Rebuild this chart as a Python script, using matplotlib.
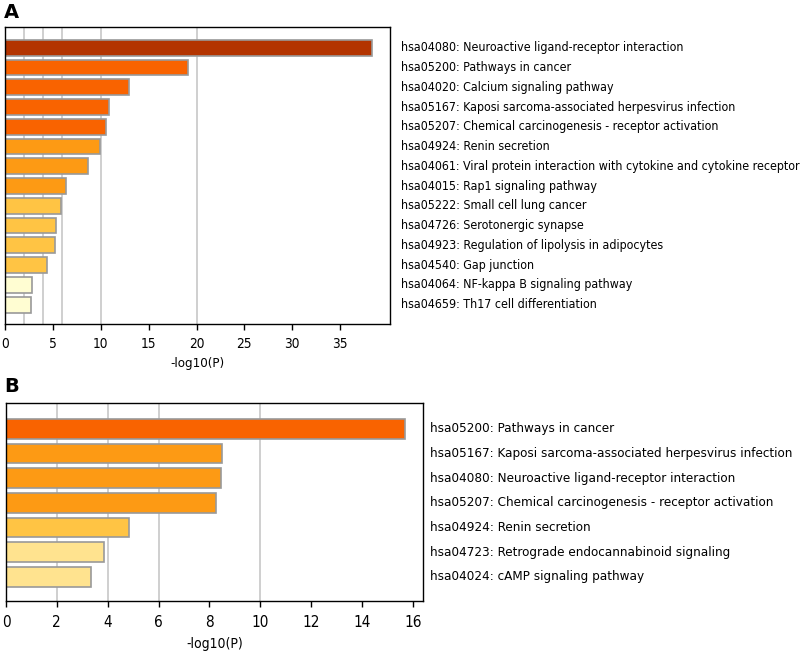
import matplotlib.pyplot as plt

# Panel A: KEGG terms and -log10(P)
terms_a = [
    "hsa04080: Neuroactive ligand-receptor interaction",
    "hsa05200: Pathways in cancer",
    "hsa04020: Calcium signaling pathway",
    "hsa05167: Kaposi sarcoma-associated herpesvirus infection",
    "hsa05207: Chemical carcinogenesis - receptor activation",
    "hsa04924: Renin secretion",
    "hsa04061: Viral protein interaction with cytokine and cytokine receptor",
    "hsa04015: Rap1 signaling pathway",
    "hsa05222: Small cell lung cancer",
    "hsa04726: Serotonergic synapse",
    "hsa04923: Regulation of lipolysis in adipocytes",
    "hsa04540: Gap junction",
    "hsa04064: NF-kappa B signaling pathway",
    "hsa04659: Th17 cell differentiation",
]
values_a = [38.3, 19.1, 12.9, 10.9, 10.55, 9.9, 8.7, 6.4, 5.8, 5.3, 5.2, 4.4, 2.8, 2.75]
colors_a = ["#B33400"] + ["#F96300"] * 4 + ["#FD9A14"] * 3 + ["#FFC444"] * 4 + ["#FFFDD2"] * 2
ticks_a = [0, 5, 10, 15, 20, 25, 30, 35]
grid_a = [2, 4, 6, 10, 20]

# Panel B
terms_b = [
    "hsa05200: Pathways in cancer",
    "hsa05167: Kaposi sarcoma-associated herpesvirus infection",
    "hsa04080: Neuroactive ligand-receptor interaction",
    "hsa05207: Chemical carcinogenesis - receptor activation",
    "hsa04924: Renin secretion",
    "hsa04723: Retrograde endocannabinoid signaling",
    "hsa04024: cAMP signaling pathway",
]
values_b = [15.7, 8.49, 8.47, 8.27, 4.83, 3.85, 3.33]
colors_b = ["#F96300"] + ["#FD9A14"] * 3 + ["#FFC444"] + ["#FFE38F"] * 2
ticks_b = [0, 2, 4, 6, 8, 10, 12, 14, 16]
grid_b = [2, 4, 6, 10]

W, H = 809, 657
fig = plt.figure(figsize=(W / 100, H / 100), dpi=100)


def panel(rect, terms, values, colors, ticks, grid, xmax, letter, letter_xy,
          fs_term, fs_tick, fs_label, gap, tick_pad, label_pad):
    l, t, r, b = rect
    ax = fig.add_axes([l / W, 1 - b / H, (r - l) / W, (b - t) / H])
    n = len(values)
    ypos = list(range(n))
    for g in grid:
        ax.axvline(g, color="#cccccc", lw=1.3, zorder=0)
    ax.barh(ypos, values, height=0.8, color=colors, edgecolor="#999999", linewidth=1.2, zorder=2)
    ax.set_ylim(n - 0.02, -1.05)
    ax.set_xlim(0, xmax)
    ax.set_yticks([])
    ax.set_xticks(ticks)
    ax.tick_params(axis="x", length=4, width=1, labelsize=fs_tick, pad=tick_pad)
    for lab in ax.get_xticklabels():
        lab.set_fontstretch("condensed")
    for s in ax.spines.values():
        s.set_linewidth(1.0)
    for y, term in zip(ypos, terms):
        ax.text(1 + gap / (r - l), 1 - (y + 1.05) / (n + 1.03), term, transform=ax.transAxes,
                ha="left", va="center", fontsize=fs_term, fontstretch="condensed")
    ax.set_xlabel("-log10(P)", fontsize=fs_label, fontstretch="condensed", labelpad=label_pad)
    fig.text(letter_xy[0] / W, 1 - letter_xy[1] / H, letter, fontsize=14,
             fontweight="bold", ha="left", va="center")
    return ax


panel((5, 27, 390, 324), terms_a, values_a, colors_a, ticks_a, grid_a, 40.2,
      "A", (4, 12), 8.9, 9.8, 9.5, 11, 5, 5)
panel((6, 403, 423, 601), terms_b, values_b, colors_b, ticks_b, grid_b, 16.4,
      "B", (4, 387), 9.6, 11, 10, 7, 6, 5)

fig.savefig("out.png", dpi=100)
